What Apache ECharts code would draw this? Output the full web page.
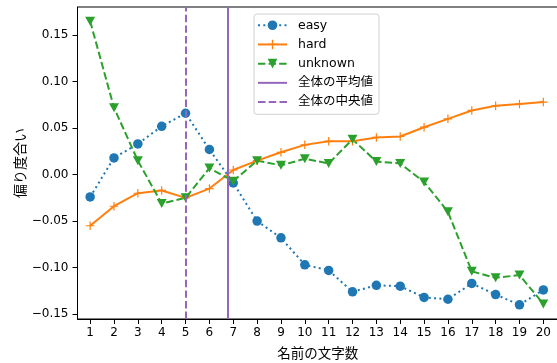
<!DOCTYPE html>
<html>
<head>
<meta charset="utf-8">
<script src="https://cdn.jsdelivr.net/npm/echarts@6/dist/echarts.min.js"></script>
<style>html,body{margin:0;padding:0;background:#fff}#c{width:557px;height:363px}</style>
</head>
<body>
<div id="c"></div>
<script>
const nameLengths = [1,2,3,4,5,6,7,8,9,10,11,12,13,14,15,16,17,18,19,20];
const easy = [-0.024, 0.018, 0.033, 0.052, 0.066, 0.027, -0.009, -0.050, -0.068, -0.097, -0.103, -0.126, -0.119, -0.120, -0.132, -0.134, -0.117, -0.129, -0.140, -0.124];
const hard = [-0.055, -0.034, -0.020, -0.017, -0.025, -0.015, 0.005, 0.015, 0.024, 0.032, 0.036, 0.036, 0.040, 0.041, 0.051, 0.060, 0.069, 0.074, 0.076, 0.078];
const unknown = [0.165, 0.072, 0.015, -0.031, -0.025, 0.007, -0.007, 0.015, 0.010, 0.017, 0.012, 0.038, 0.014, 0.012, -0.008, -0.040, -0.104, -0.111, -0.108, -0.139];
const meanValue = 6.76;
const medianValue = 5;
const yTicks = [-0.15, -0.10, -0.05, 0.00, 0.05, 0.10, 0.15];

const FONT = '"DejaVu Sans", "Noto Sans CJK JP", sans-serif';
const pairs = arr => arr.map((v, i) => [nameLengths[i], v]);
const plusPath = 'path://M-0.14,-1H0.14V-0.14H1V0.14H0.14V1H-0.14V0.14H-1V-0.14H-0.14Z';
const solidIcon = 'path://M0,0H29V2H0Z';
const dashIcon = 'path://M0,0H7.4V2H0Z M10.6,0H18V2H10.6Z M21.2,0H28.6V2H21.2Z';

const chart = echarts.init(document.getElementById('c'), null, {renderer: 'canvas'});
chart.setOption({
  animation: false,
  grid: {left: 77.5, right: -9, top: 7, bottom: 44, outerBoundsMode: 'none', containLabel: false,
    show: true, borderColor: '#000', borderWidth: 1, backgroundColor: 'transparent'},
  xAxis: {
    type: 'value', min: 0.47, max: 20.95,
    name: '名前の文字数', nameLocation: 'middle', nameGap: 29, nameMoveOverlap: false,
    nameTextStyle: {fontFamily: FONT, fontSize: 13.5, color: '#000', padding: [0, 8, 0, 0]},
    axisLine: {show: true, onZero: false, lineStyle: {color: '#000', width: 1}},
    axisTick: {show: true, length: 5, customValues: nameLengths, lineStyle: {color: '#000', width: 1}},
    axisLabel: {customValues: nameLengths, margin: 8, fontFamily: FONT, fontSize: 12, color: '#000'},
    splitLine: {show: false}
  },
  yAxis: {
    type: 'value', min: -0.15525, max: 0.18025,
    name: '偏り度合い', nameLocation: 'middle', nameGap: 49, nameMoveOverlap: false,
    nameTextStyle: {fontFamily: FONT, fontSize: 14, color: '#000'},
    axisLine: {show: true, onZero: false, lineStyle: {color: '#000', width: 1}},
    axisTick: {show: true, length: 5, customValues: yTicks, lineStyle: {color: '#000', width: 1}},
    axisLabel: {customValues: yTicks, margin: 9, fontFamily: FONT, fontSize: 12, color: '#000',
      formatter: v => (v < -1e-9 ? '\u2212' : '') + Math.abs(v).toFixed(2)},
    splitLine: {show: false}
  },
  legend: {
    orient: 'vertical', left: 254, top: 14,
    padding: [5, 6, 6, 3],
    itemWidth: 29, itemHeight: 12, itemGap: 6.7,
    backgroundColor: 'rgba(255,255,255,0.8)', borderColor: '#d0d0d0', borderWidth: 1, borderRadius: 3,
    textStyle: {fontFamily: FONT, fontSize: 12.5, color: '#000', padding: [0, 0, 0, 6]},
    data: [
      'easy', 'hard', 'unknown',
      {name: '全体の平均値', icon: solidIcon, itemStyle: {color: '#9467bd'}},
      {name: '全体の中央値', icon: dashIcon, itemStyle: {color: '#9467bd'}}
    ]
  },
  series: [
    {
      name: 'easy', type: 'line', data: pairs(easy),
      symbol: 'circle', symbolSize: 9.5, showAllSymbol: true,
      itemStyle: {color: '#1f77b4'},
      lineStyle: {color: '#1f77b4', width: 2, type: [2, 3.3]}
    },
    {
      name: 'hard', type: 'line', data: pairs(hard),
      symbol: plusPath, symbolSize: 8.5, showAllSymbol: true,
      itemStyle: {color: '#ff7f0e'},
      lineStyle: {color: '#ff7f0e', width: 2}
    },
    {
      name: 'unknown', type: 'line', data: pairs(unknown),
      symbol: 'triangle', symbolRotate: 180, symbolSize: [10, 9], showAllSymbol: true,
      itemStyle: {color: '#2ca02c'},
      lineStyle: {color: '#2ca02c', width: 2, type: [7.4, 3.2]}
    },
    {
      name: '全体の平均値', type: 'line', data: [], symbol: 'none',
      itemStyle: {color: '#9467bd'},
      lineStyle: {color: '#9467bd', width: 2},
      markLine: {silent: true, symbol: 'none', label: {show: false},
        lineStyle: {color: '#9467bd', width: 2, type: 'solid'},
        data: [{xAxis: meanValue}]}
    },
    {
      name: '全体の中央値', type: 'line', data: [], symbol: 'none',
      itemStyle: {color: '#9467bd'},
      lineStyle: {color: '#9467bd', width: 2, type: [7.4, 3.2]},
      markLine: {silent: true, symbol: 'none', label: {show: false},
        lineStyle: {color: '#9467bd', width: 2, type: [7.4, 3.2]},
        data: [{xAxis: medianValue}]}
    }
  ]
});
</script>
</body>
</html>
